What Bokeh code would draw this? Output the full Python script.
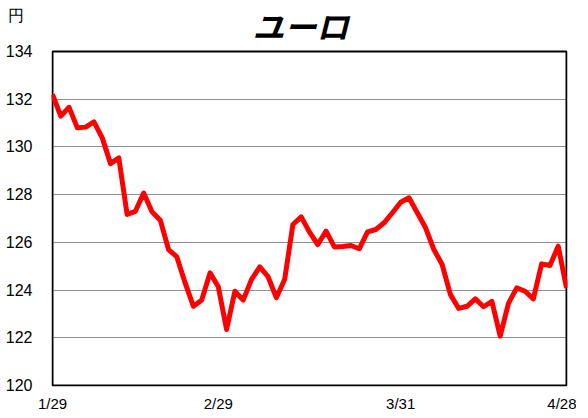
from bokeh.plotting import figure
from bokeh.models import Range1d, FixedTicker, Label
from bokeh.embed import file_html
from bokeh.resources import INLINE

# Data (trading-day index vs EUR/JPY)
values = [132.2, 131.29, 131.66, 130.8, 130.83, 131.05, 130.38, 129.3, 129.54, 127.17,
          127.3, 128.07, 127.28, 126.93, 125.70, 125.39, 124.3, 123.32, 123.58, 124.72,
          124.14, 122.35, 123.95, 123.58, 124.44, 124.97, 124.56, 123.68, 124.44, 126.75,
          127.07, 126.43, 125.91, 126.47, 125.81, 125.83, 125.87, 125.73, 126.44, 126.54,
          126.82, 127.24, 127.68, 127.87, 127.24, 126.61, 125.7, 125.07, 123.81, 123.23,
          123.32, 123.63, 123.3, 123.53, 122.07, 123.44, 124.09, 123.95, 123.63, 125.1,
          125.03, 125.84, 124.09]
x = list(range(len(values)))
tick_positions = [0, 20, 42, 62]
tick_labels = ["1/29", "2/29", "3/31", "4/28"]
y_ticks = [120, 122, 124, 126, 128, 130, 132, 134]
title_text = "ユーロ"
unit_text = "円"

jp_font = "Noto Sans CJK JP"
num_font = "Liberation Sans"

W, H = 576, 414
LEFT, RIGHT, TOP, BOTTOM = 51, 9, 0, 28
# frame extends above the boxed plot area so that title and unit fit inside
y_lo, y_hi = y_ticks[0], y_ticks[-1]
y_top = y_hi + 2.138
y_bot = y_lo - 0.042
unit_pos = y_hi + 1.51
title_pos = y_hi + 1.13
x_lo, x_hi = x[0], x[-1]

p = figure(width=W, height=H, output_backend="svg", toolbar_location=None,
           x_range=Range1d(x_lo - 0.12, x_hi + 0.12), y_range=Range1d(y_bot, y_top),
           min_border_left=LEFT, min_border_right=RIGHT, min_border_top=TOP,
           min_border_bottom=BOTTOM)

p.outline_line_color = None
p.background_fill_color = "white"
p.border_fill_color = "white"

p.xgrid.grid_line_color = None
p.ygrid.ticker = FixedTicker(ticks=y_ticks[1:-1])
p.ygrid.grid_line_color = "#222222"
p.ygrid.grid_line_dash = "1 1"
p.ygrid.grid_line_width = 1

# plot-area box
p.quad(left=[x_lo], right=[x_hi], bottom=[y_lo], top=[y_hi],
       fill_color=None, line_color="black", line_width=2)

p.line(x, values, line_color="#ff0000", line_width=5, line_join="round")

p.xaxis.ticker = FixedTicker(ticks=tick_positions)
p.xaxis.major_label_overrides = {t: l for t, l in zip(tick_positions, tick_labels)}
p.yaxis.ticker = FixedTicker(ticks=y_ticks + [unit_pos])
p.yaxis.major_label_overrides = {unit_pos: unit_text + "\u00a0\u00a0"}
for ax in (p.xaxis, p.yaxis):
    ax.axis_line_color = None
    ax.major_tick_line_color = None
    ax.minor_tick_line_color = None
    ax.major_tick_out = 0
    ax.major_tick_in = 0
    ax.minor_tick_out = 0
    ax.minor_tick_in = 0
    ax.major_label_text_font = num_font
    ax.major_label_text_color = "black"
p.yaxis.major_label_text_font_size = "16px"
p.xaxis.major_label_text_font_size = "15px"
p.yaxis.major_label_standoff = 19
p.xaxis.major_label_standoff = 8

p.add_layout(Label(x=29.9, y=title_pos, text=title_text, text_font=jp_font,
                   text_font_size="32px", text_font_style="bold italic",
                   text_align="center", text_baseline="middle", text_color="black"))

open("out.html", "w").write(file_html(p, INLINE))
